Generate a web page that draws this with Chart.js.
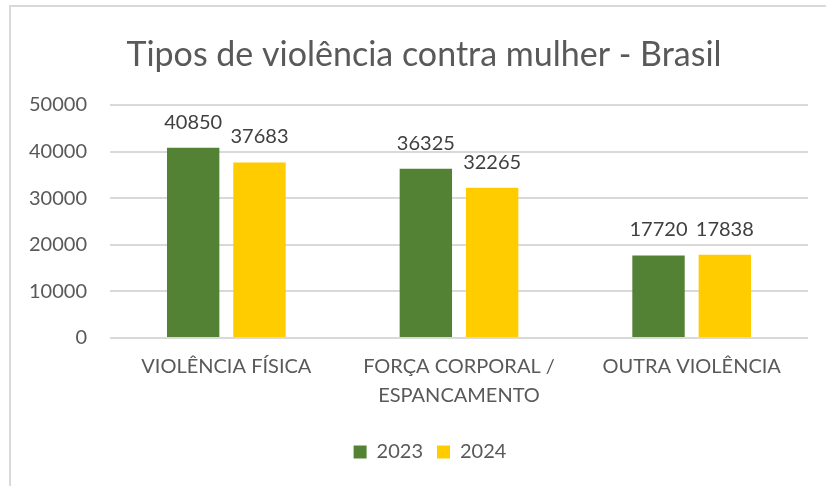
<!DOCTYPE html>
<html>
<head>
<meta charset="utf-8">
<script src="https://cdn.jsdelivr.net/npm/chart.js@4/dist/chart.umd.min.js"></script>
<style>
  html, body { margin: 0; padding: 0; background: #fff; }
  .frame {
    position: absolute; left: 9px; top: 5px; width: 830px; height: 500px;
    border-left: 2px solid #d9d9d9; border-top: 2px solid #d9d9d9;
  }
  #wrap { position: absolute; left: 0; top: 0; width: 826px; height: 486px; }
</style>
</head>
<body>
<div class="frame"></div>
<div id="wrap"><canvas id="chart"></canvas></div>
<script>
const categories = ['VIOLÊNCIA FÍSICA', ['FORÇA CORPORAL /', 'ESPANCAMENTO'], 'OUTRA VIOLÊNCIA']
const values2023 = [40850, 36325, 17720]
const values2024 = [37683, 32265, 17838]
const yTicks = [0, 10000, 20000, 30000, 40000, 50000]
const chartTitle = 'Tipos de violência contra mulher - Brasil'

const FONT = 'Lato, "Open Sans", sans-serif'
const GREY = '#595959'

// title drawn by hand so it can sit where Excel put it
const titlePlugin = {
  id: 'titlePlugin',
  afterDraw(chart) {
    const { ctx } = chart
    ctx.save()
    ctx.font = '34px ' + FONT
    ctx.fillStyle = GREY
    ctx.textAlign = 'center'
    ctx.textBaseline = 'alphabetic'
    ctx.fillText(chartTitle, 424, 66)
    ctx.restore()
  },
}

// nudge the legend right, Excel centres it on the whole frame
const legendShift = {
  id: 'legendShift',
  afterLayout(chart) {
    chart.legend.left += 26
    chart.legend.right += 26
  },
}

// value labels above each bar
const barLabels = {
  id: 'barLabels',
  afterDatasetsDraw(chart) {
    const { ctx } = chart
    ctx.save()
    ctx.font = '20px ' + FONT
    ctx.fillStyle = '#404040'
    ctx.textAlign = 'center'
    ctx.textBaseline = 'alphabetic'
    chart.data.datasets.forEach((dataset, i) => {
      chart.getDatasetMeta(i).data.forEach((bar, j) => {
        ctx.fillText(String(dataset.data[j]), bar.x, bar.y - 19)
      })
    })
    ctx.restore()
  },
}

new Chart(document.getElementById('chart'), {
  type: 'bar',
  data: {
    labels: categories,
    datasets: [
      { label: '2023', data: values2023, backgroundColor: '#548235', categoryPercentage: 0.57, barPercentage: 0.79 },
      { label: '2024', data: values2024, backgroundColor: '#ffcc00', categoryPercentage: 0.57, barPercentage: 0.79 },
    ],
  },
  options: {
    responsive: true,
    maintainAspectRatio: false,
    animation: false,
    layout: { padding: { top: 105, right: 18, bottom: 14, left: 0 } },
    scales: {
      x: {
        afterFit: (scale) => { scale.height += 12 },
        grid: { display: false },
        border: { display: false },
        ticks: { color: GREY, font: { family: FONT, size: 20, lineHeight: 1.45 }, padding: 6, maxRotation: 0 },
      },
      y: {
        min: 0,
        max: 50000,
        afterFit: (scale) => { scale.width = 110 },
        afterBuildTicks: (scale) => { scale.ticks = yTicks.map((v) => ({ value: v })) },
        grid: { color: '#d9d9d9', lineWidth: 2, drawTicks: false },
        border: { display: false },
        ticks: { color: GREY, font: { family: FONT, size: 20 }, padding: 23, callback: (v) => String(v) },
      },
    },
    plugins: {
      title: { display: false },
      tooltip: { enabled: false },
      legend: {
        position: 'bottom',
        labels: { color: GREY, font: { family: FONT, size: 20 }, boxWidth: 13, boxHeight: 13, padding: 14 },
      },
    },
  },
  plugins: [titlePlugin, legendShift, barLabels],
})
</script>
</body>
</html>
